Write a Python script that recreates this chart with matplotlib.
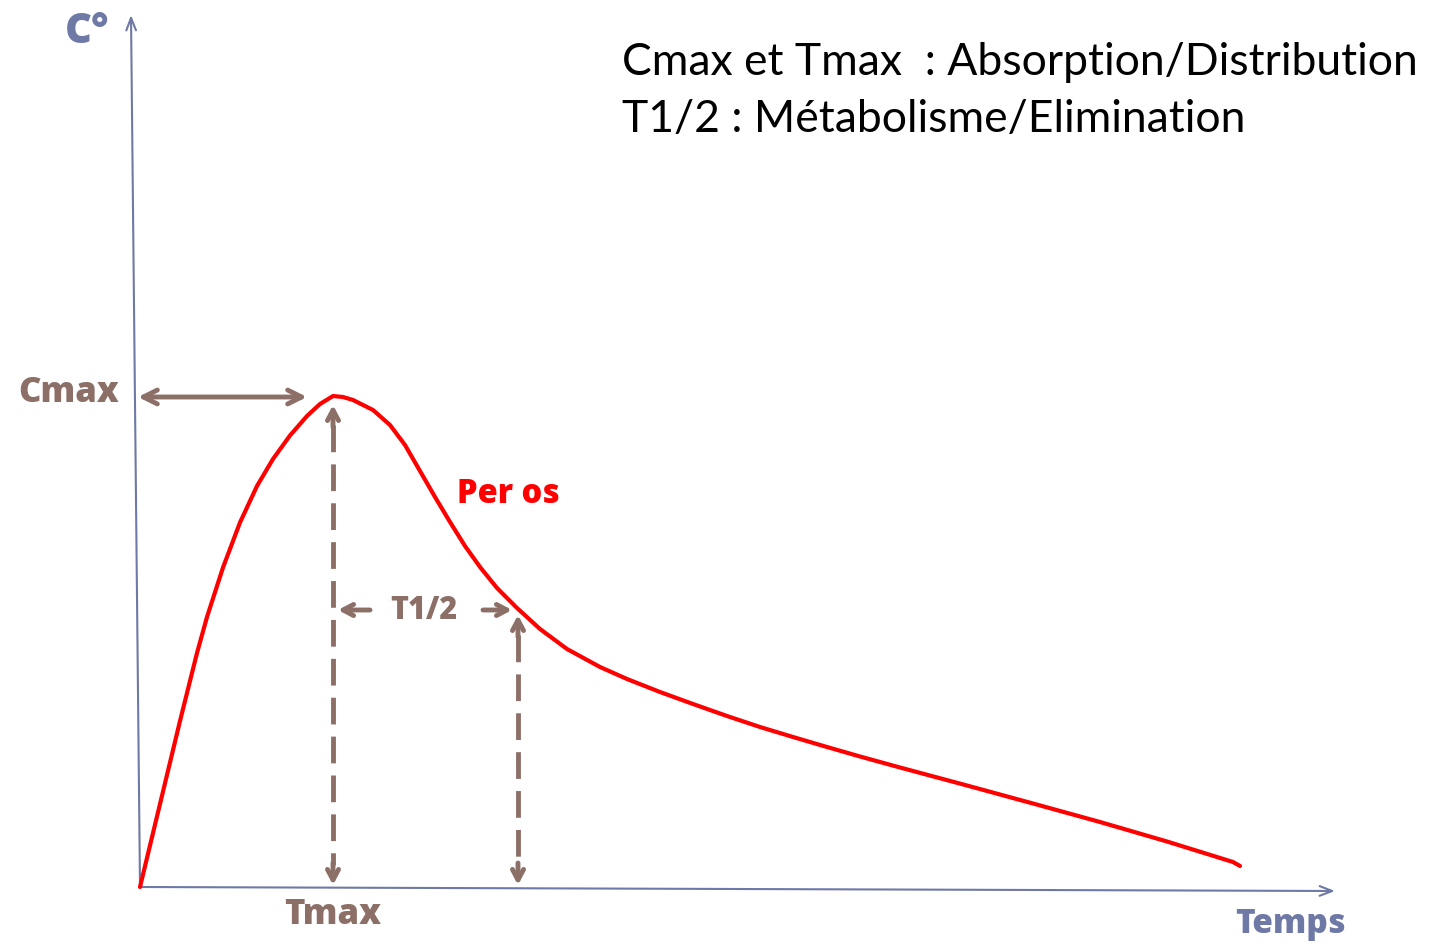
"""
Courbe de concentration plasmatique (per os) : Cmax, Tmax, T1/2
"""

import matplotlib
matplotlib.use('Agg')
import matplotlib.pyplot as plt

# courbe per os (temps / concentration, unités arbitraires)
temps = [0, 20, 40, 57, 67, 83, 100, 117, 133, 150, 167, 180, 193, 203, 213,
         233, 250, 265, 280, 295, 310, 325, 340, 357, 377, 400, 427, 460, 487,
         520, 553, 587, 620, 653, 687, 720, 760, 827, 893, 960, 1027, 1093, 1100]
conc = [0, 83, 166, 234, 270, 319.5, 364.5, 401, 428, 451.5, 471, 483, 491, 490, 487,
        477, 462, 442, 416, 390, 365, 341, 320, 299, 279, 258, 238, 220, 208,
        195, 183, 171, 160, 150, 140, 130.5, 119.5, 101.5, 83.5, 65, 45.5, 25, 21]

t_max = 193
c_max = 491
t_demi = 378
c_demi = 278

titre_1 = "Cmax et Tmax  : Absorption/Distribution"
titre_2 = "T1/2 : Métabolisme/Elimination"

BLEU = '#6F79A6'
BRUN = '#8C7068'
ROUGE = '#FF0000'

plt.rcParams['font.family'] = ['Lato', 'DejaVu Sans']

fig = plt.figure(figsize=(14.37, 9.47), dpi=100)
ax = fig.add_axes([0, 0, 1, 1])
ax.set_xlim(-140, 1297)
ax.set_ylim(-60, 887)
ax.axis('off')

# axes (légèrement inclinés comme sur le schéma)
ax.annotate('', xy=(-9, 872), xytext=(0, 0),
            arrowprops=dict(arrowstyle='->, head_width=0.35, head_length=0.9',
                            color=BLEU, lw=1.5, shrinkA=0, shrinkB=0))
ax.annotate('', xy=(1195, -4), xytext=(0, 0),
            arrowprops=dict(arrowstyle='->, head_width=0.35, head_length=0.9',
                            color=BLEU, lw=1.5, shrinkA=0, shrinkB=0))

# courbe
ax.plot(temps, conc, color=ROUGE, lw=3, solid_capstyle='round',
        solid_joinstyle='round', zorder=3)

# Cmax
ax.annotate('', xy=(-2, c_max - 1), xytext=(t_max - 26, c_max - 1),
            arrowprops=dict(arrowstyle='<->, head_width=0.5, head_length=1.0',
                            color=BRUN, lw=3.5, shrinkA=0, shrinkB=0))

# Tmax et T1/2 : traits pointillés + pointes
fleche = dict(arrowstyle='->, head_width=0.4, head_length=0.75',
              color=BRUN, lw=3.5, shrinkA=0, shrinkB=0)
for t, c in [(t_max, c_max - 9), (t_demi, c_demi - 6)]:
    ax.plot([t, t], [c - 20, 22], color=BRUN, lw=3.5, ls=(0, (5.5, 2.5)))
    ax.annotate('', xy=(t, c), xytext=(t, c - 22), arrowprops=fleche)
    ax.annotate('', xy=(t, 2), xytext=(t, 24), arrowprops=fleche)

ax.annotate('', xy=(t_max + 5, 277), xytext=(t_max + 37, 277), arrowprops=fleche)
ax.annotate('', xy=(t_demi - 6, 277), xytext=(t_demi - 35, 277), arrowprops=fleche)

# textes
lab = dict(fontweight='heavy', family=['Open Sans', 'DejaVu Sans'])
ax.text(-53, 855, 'C°', color=BLEU, fontsize=30, ha='center', va='center', **lab)
ax.text(-71, 494, 'Cmax', color=BRUN, fontsize=25, ha='center', va='center', **lab)
ax.text(t_max, -28, 'Tmax', color=BRUN, fontsize=25, ha='center', va='center', **lab)
ax.text(1150, -37, 'Temps', color=BLEU, fontsize=24, ha='center', va='center', **lab)
ax.text(284, 276, 'T1/2', color=BRUN, fontsize=22, ha='center', va='center', **lab)
ax.text(317, 384, 'Per os', color=ROUGE, fontsize=23.5, ha='left', va='baseline', **lab)

ax.text(482, 812, titre_1, color='black', fontsize=32, ha='left', va='baseline')
ax.text(482, 755, titre_2, color='black', fontsize=32, ha='left', va='baseline')

fig.savefig('out.png', dpi=100)
